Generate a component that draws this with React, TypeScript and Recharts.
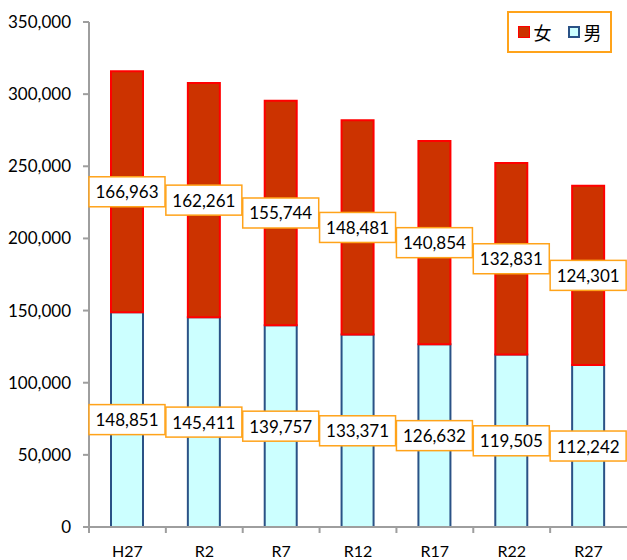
import React from 'react';
import { BarChart, Bar, XAxis, YAxis, Legend, LabelList } from 'recharts';

const categories = ['H27', 'R2', 'R7', 'R12', 'R17', 'R22', 'R27'];
const maleValues = [148851, 145411, 139757, 133371, 126632, 119505, 112242];
const femaleValues = [166963, 162261, 155744, 148481, 140854, 132831, 124301];
const yTicks = [0, 50000, 100000, 150000, 200000, 250000, 300000, 350000];
const seriesNames = { female: '女', male: '男' };

const data = categories.map((c, i) => ({ name: c, male: maleValues[i], female: femaleValues[i] }));

const FONT = 'Lato, "Noto Sans", sans-serif';
const ORANGE = '#FFA31A';
const AXIS = '#9E9E9E';

const fmt = (v: number) => v.toLocaleString('en-US');

const BoxLabel = (props: any) => {
  const { x, y, width, height, value } = props;
  const cx = Number(x) + Number(width) / 2;
  const cy = Number(y) + Number(height) / 2;
  const bw = 76;
  const bh = 30;
  return (
    <g>
      <rect x={cx - bw / 2} y={cy - bh / 2} width={bw} height={bh} fill="#fff" stroke={ORANGE} strokeWidth={1.5} />
      <text x={cx} y={cy} textAnchor="middle" dominantBaseline="central" fontFamily={FONT} fontSize={17} fill="#000">
        {fmt(Number(value))}
      </text>
    </g>
  );
};

const XTick = (props: any) => {
  const { x, y, payload } = props;
  const half = payload && payload.offset ? payload.offset : 38.4;
  const axisY = y - 8;
  return (
    <g>
      <line x1={x - half} y1={axisY} x2={x - half} y2={axisY + 6} stroke={AXIS} strokeWidth={2} />
      <text x={x} y={axisY + 23} textAnchor="middle" dominantBaseline="central" fontFamily={FONT} fontSize={16} fill="#000">
        {payload.value}
      </text>
    </g>
  );
};

const LegendBox = () => (
  <div
    style={{
      boxSizing: 'border-box',
      width: 105,
      height: 42,
      border: `2.5px solid ${ORANGE}`,
      background: '#fff',
      display: 'flex',
      alignItems: 'center',
      justifyContent: 'center',
      fontFamily: '"Noto Sans CJK JP", sans-serif',
      fontSize: 18,
      color: '#000',
      gap: 4,
    }}
  >
    <span style={{ display: 'inline-block', boxSizing: 'border-box', width: 12, height: 12, background: '#CC3300', border: '1.5px solid #FF0000' }} />
    <span style={{ marginRight: 12 }}>{seriesNames.female}</span>
    <span style={{ display: 'inline-block', boxSizing: 'border-box', width: 12, height: 12, background: '#CCFFFF', border: '2px solid #2A5286' }} />
    <span>{seriesNames.male}</span>
  </div>
);

export default function App() {
  return (
    <div style={{ position: 'absolute', left: 0, top: 0, width: 627, height: 560, background: '#fff' }}>
      <BarChart width={627} height={560} data={data} margin={{ top: 22, right: 0, left: 0, bottom: 0 }} barSize={32}>
        <XAxis
          dataKey="name"
          height={33}
          axisLine={{ stroke: AXIS, strokeWidth: 2 }}
          tickLine={false}
          tickSize={0}
          tickMargin={8}
          tick={<XTick />}
          interval={0}
        />
        <YAxis
          width={89}
          domain={[0, 350000]}
          ticks={yTicks}
          interval={0}
          tickFormatter={fmt}
          axisLine={{ stroke: AXIS, strokeWidth: 2 }}
          tickLine={{ stroke: AXIS, strokeWidth: 2 }}
          tickSize={6}
          tickMargin={12}
          tick={{ fontFamily: FONT, fontSize: 17, fill: '#000' }}
        />
        <Legend
          layout="horizontal"
          verticalAlign="middle"
          align="center"
          content={<LegendBox />}
          wrapperStyle={{ top: 11, left: 507, width: 105 }}
        />
        <Bar dataKey="male" stackId="a" fill="#CCFFFF" stroke="#2A5286" strokeWidth={2} isAnimationActive={false} name={seriesNames.male}>
          <LabelList dataKey="male" content={<BoxLabel />} />
        </Bar>
        <Bar dataKey="female" stackId="a" fill="#CC3300" stroke="#FF0000" strokeWidth={2} isAnimationActive={false} name={seriesNames.female}>
          <LabelList dataKey="female" content={<BoxLabel />} />
        </Bar>
      </BarChart>
    </div>
  );
}
